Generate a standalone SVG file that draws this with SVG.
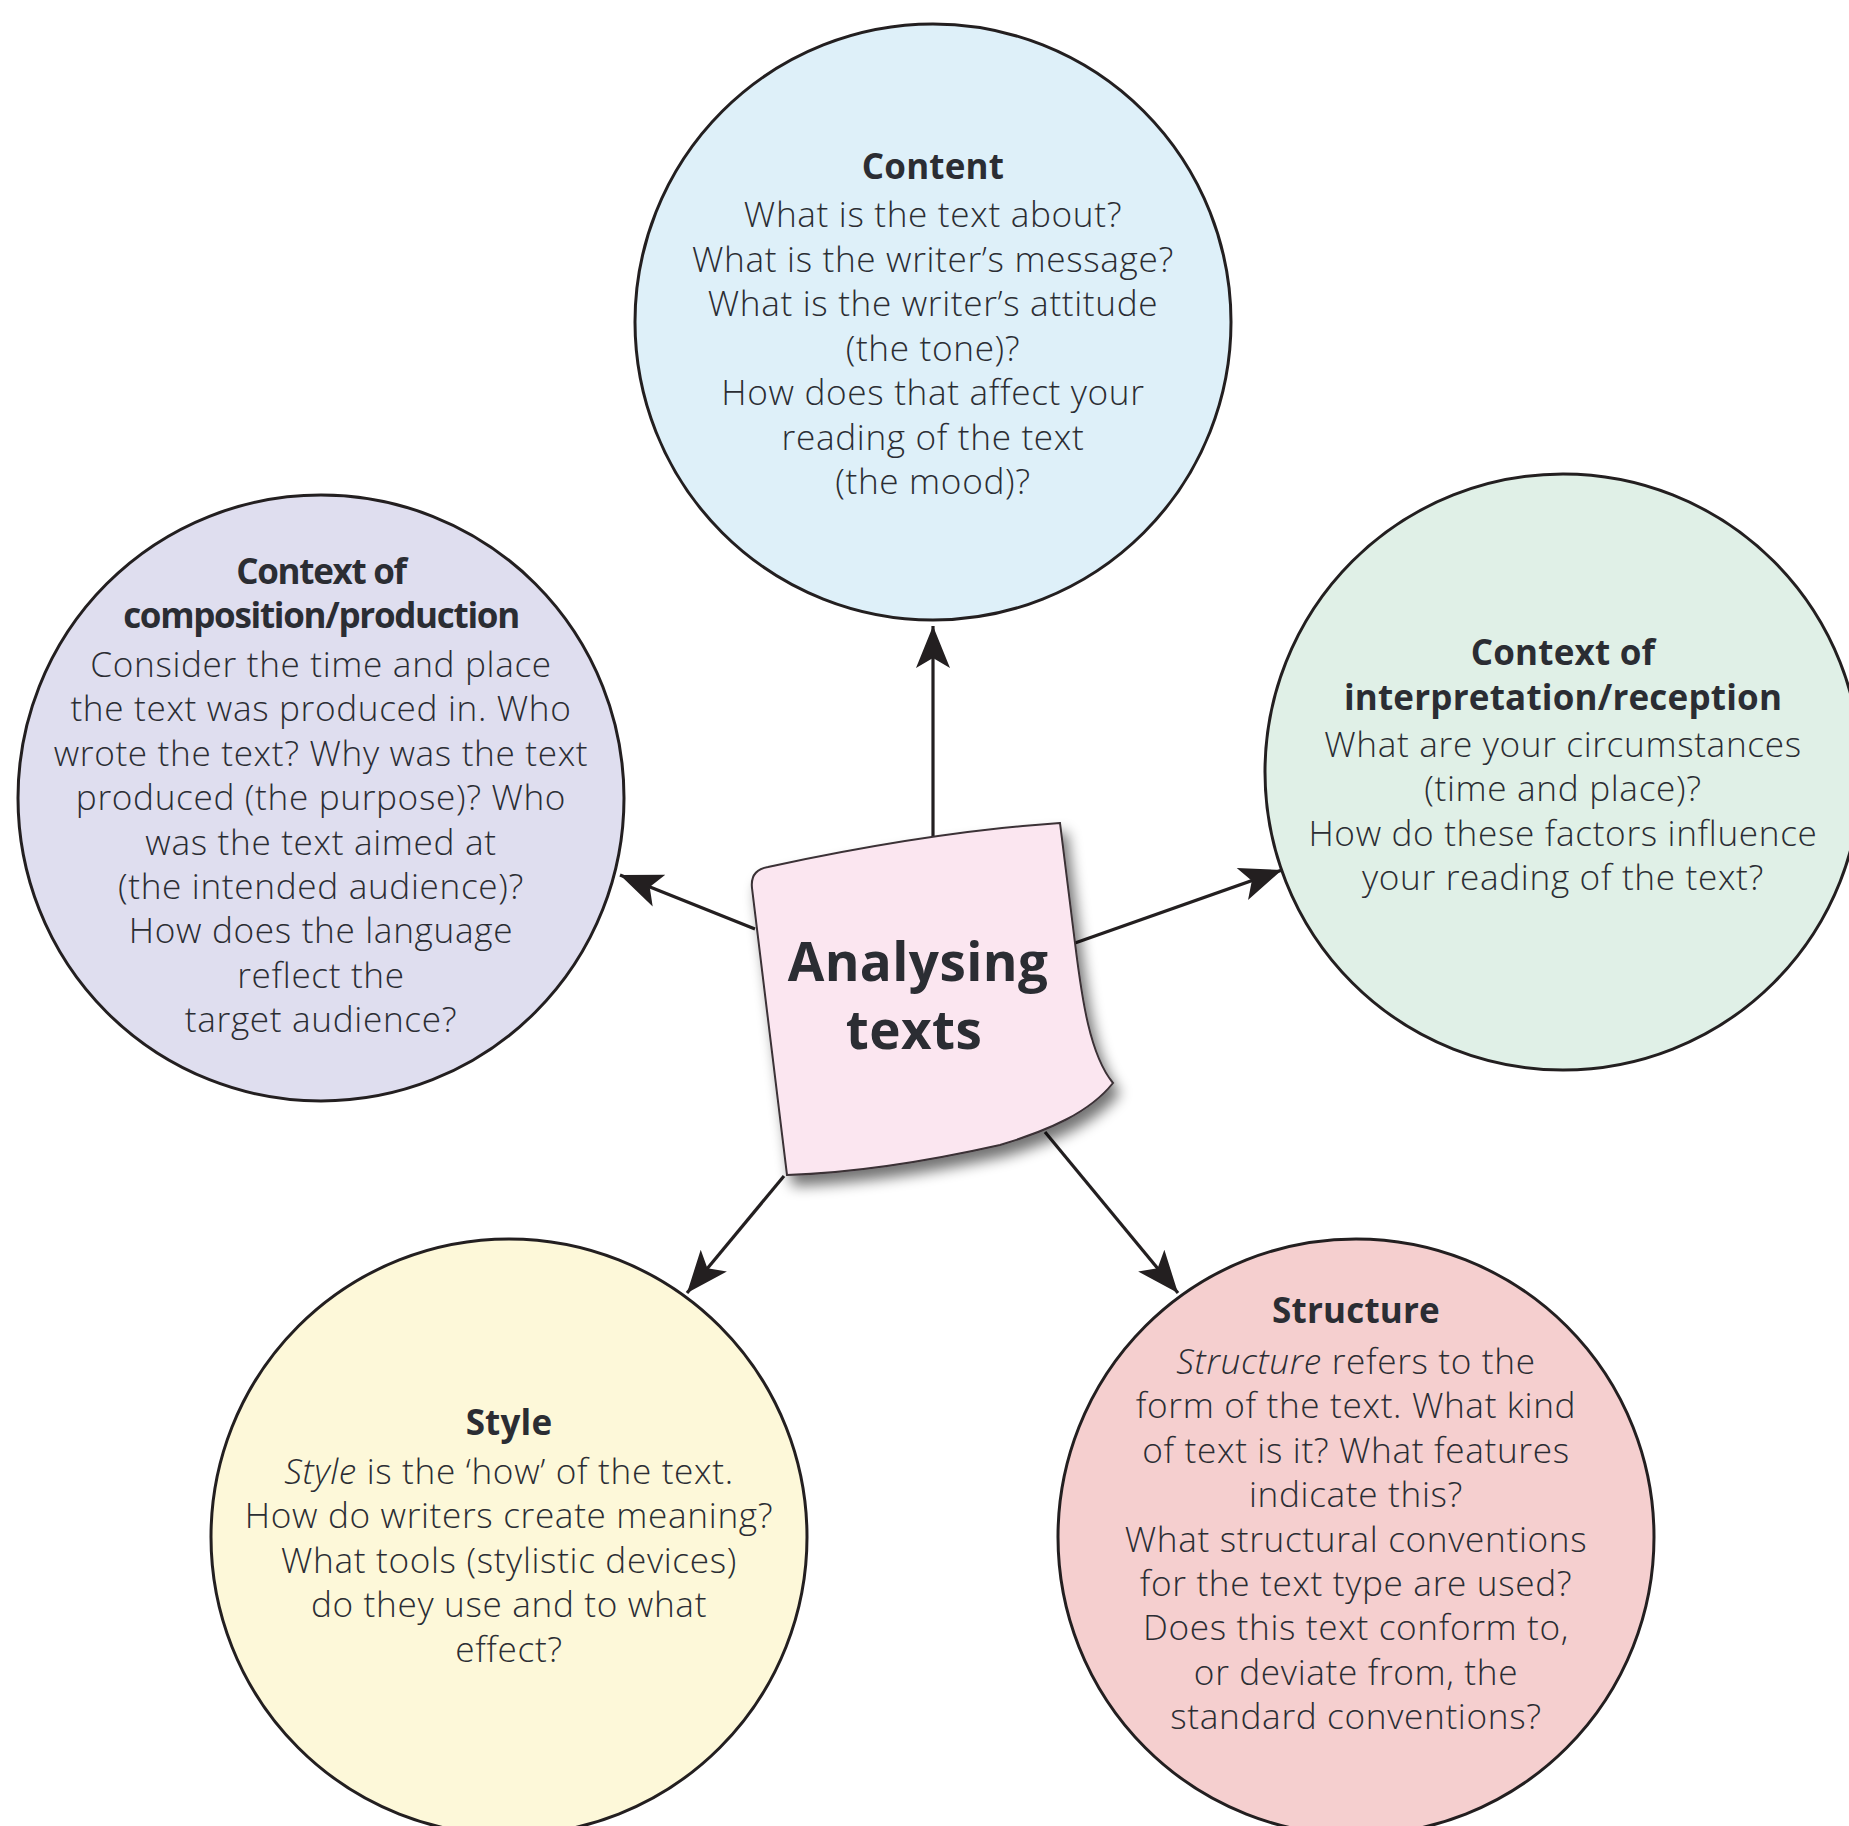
<svg xmlns="http://www.w3.org/2000/svg" width="1849" height="1826" viewBox="0 0 1849 1826">
<style>
.c{stroke:#231f20;stroke-width:3}
.t{font-family:"Open Sans","Noto Sans","Liberation Sans",sans-serif;font-size:35.2px;letter-spacing:0.65px;font-weight:300;fill:#2b2d33;text-anchor:middle}
.h{font-weight:700;font-size:35px;letter-spacing:0.2px}
.cond{letter-spacing:-1.3px}
.big{font-size:53px;font-weight:700;letter-spacing:0.4px}
.i{font-style:italic}
.conn{stroke:#231f20;stroke-width:3.2;fill:none;marker-end:url(#ah)}
</style>
<defs>
<marker id="ah" markerUnits="userSpaceOnUse" markerWidth="50" markerHeight="40" viewBox="-44 -20 48 40" refX="0" refY="0" orient="auto">
<path d="M0,0 L-42,-17 L-32,0 L-42,17 Z" fill="#231f20"/>
</marker>
<filter id="sh" x="-20%" y="-20%" width="150%" height="150%">
<feGaussianBlur in="SourceAlpha" stdDeviation="7"/>
<feOffset dx="6" dy="10" result="b"/>
<feComponentTransfer><feFuncA type="linear" slope="0.55"/></feComponentTransfer>
<feMerge><feMergeNode/><feMergeNode in="SourceGraphic"/></feMerge>
</filter>
</defs>
<rect width="1849" height="1826" fill="#ffffff"/>

<g id="connectors">
<line class="conn" x1="933" y1="842" x2="933" y2="626"/>
<line class="conn" x1="755" y1="929" x2="620" y2="875"/>
<line class="conn" x1="1075" y1="943" x2="1282" y2="870"/>
<line class="conn" x1="784" y1="1176" x2="687" y2="1293"/>
<line class="conn" x1="1045" y1="1132" x2="1178" y2="1293"/>
</g>

<g id="content">
<circle class="c" cx="933" cy="322" r="298" fill="#def0f9"/>
<text class="t h" x="933" y="179">Content</text>
<text class="t" x="933" y="227">What is the text about?</text>
<text class="t" x="933" y="271.5">What is the writer’s message?</text>
<text class="t" x="933" y="316">What is the writer’s attitude</text>
<text class="t" x="933" y="360.5">(the tone)?</text>
<text class="t" x="933" y="405">How does that affect your</text>
<text class="t" x="933" y="449.5">reading of the text</text>
<text class="t" x="933" y="494">(the mood)?</text>
</g>

<g id="composition">
<circle class="c" cx="321" cy="798" r="303" fill="#dfdeef"/>
<text class="t h cond" x="321" y="584">Context of</text>
<text class="t h cond" x="321" y="628">composition/production</text>
<text class="t" x="321" y="677">Consider the time and place</text>
<text class="t" x="321" y="721.4">the text was produced in. Who</text>
<text class="t" x="321" y="765.8">wrote the text? Why was the text</text>
<text class="t" x="321" y="810.2">produced (the purpose)? Who</text>
<text class="t" x="321" y="854.6">was the text aimed at</text>
<text class="t" x="321" y="899">(the intended audience)?</text>
<text class="t" x="321" y="943.4">How does the language</text>
<text class="t" x="321" y="987.8">reflect the</text>
<text class="t" x="321" y="1032.2">target audience?</text>
</g>

<g id="interpretation">
<circle class="c" cx="1563" cy="772" r="298" fill="#e0f0e7"/>
<text class="t h" x="1563" y="665">Context of</text>
<text class="t h" x="1563" y="710">interpretation/reception</text>
<text class="t" x="1563" y="757">What are your circumstances</text>
<text class="t" x="1563" y="801.4">(time and place)?</text>
<text class="t" x="1563" y="845.8">How do these factors influence</text>
<text class="t" x="1563" y="890.2">your reading of the text?</text>
</g>

<g id="style">
<circle class="c" cx="509" cy="1537" r="298" fill="#fdf8d9"/>
<text class="t h" x="509" y="1435">Style</text>
<text class="t" x="509" y="1484"><tspan class="i">Style</tspan> is the ‘how’ of the text.</text>
<text class="t" x="509" y="1528.4">How do writers create meaning?</text>
<text class="t" x="509" y="1572.8">What tools (stylistic devices)</text>
<text class="t" x="509" y="1617.2">do they use and to what</text>
<text class="t" x="509" y="1661.6">effect?</text>
</g>

<g id="structure">
<circle class="c" cx="1356" cy="1537" r="298" fill="#f5cfcf"/>
<text class="t h" x="1356" y="1323">Structure</text>
<text class="t" x="1356" y="1374"><tspan class="i">Structure</tspan> refers to the</text>
<text class="t" x="1356" y="1418.4">form of the text. What kind</text>
<text class="t" x="1356" y="1462.8">of text is it? What features</text>
<text class="t" x="1356" y="1507.2">indicate this?</text>
<text class="t" x="1356" y="1551.6">What structural conventions</text>
<text class="t" x="1356" y="1596">for the text type are used?</text>
<text class="t" x="1356" y="1640.4">Does this text conform to,</text>
<text class="t" x="1356" y="1684.8">or deviate from, the</text>
<text class="t" x="1356" y="1729.2">standard conventions?</text>
</g>

<g id="center">
<path filter="url(#sh)" d="M752,888 Q750,870 768,867 Q930,832 1060,823 L1075,943 C1082,1000 1090,1055 1113,1083 C1090,1112 1050,1130 1000,1145 Q880,1172 787,1175 Q770,1040 752,888 Z" fill="#fbe6f0" stroke="#3a3036" stroke-width="2"/>
<text class="t big" x="918" y="981">Analysing</text>
<text class="t big" x="914" y="1049">texts</text>
</g>
</svg>
